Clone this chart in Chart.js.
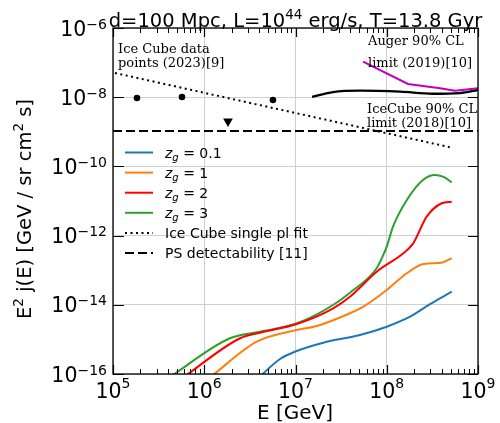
<!DOCTYPE html>
<html><head><meta charset="utf-8">
<script src="https://cdn.jsdelivr.net/npm/chart.js@4.4.0/dist/chart.umd.min.js"></script>
<style>html,body{margin:0;padding:0;background:#fff}#wrap{width:500px;height:423px}</style>
</head><body><div id="wrap"><canvas id="c" width="500" height="423"></canvas></div>
<script>
// ---- tick labels ----
const xTickValues = [1e5, 1e6, 1e7, 1e8, 1e9];
const xTickExponents = ['5', '6', '7', '8', '9'];
const yTickValues = [1e-6, 1e-8, 1e-10, 1e-12, 1e-14, 1e-16];
const yTickExponents = ['\u22126', '\u22128', '\u221210', '\u221212', '\u221214', '\u221216'];

// ---- series ----
const zg01E = [3.80e6, 6.76e6, 1.03e7, 2.02e7, 5.09e7, 1.00e8, 1.80e8, 2.98e8, 5.15e8];
const zg01J = [7.08e-17, 2.72e-16, 4.62e-16, 8.04e-16, 1.34e-15, 2.33e-15, 4.53e-15, 1.05e-14, 2.39e-14];

const zg1E = [1.12e6, 3.76e6, 1.03e7, 1.71e7, 3.95e7, 5.53e7, 1.00e8, 1.66e8, 2.52e8, 4.00e8, 5.15e8];
const zg1J = [7.41e-17, 8.59e-16, 1.87e-15, 2.44e-15, 5.69e-15, 8.81e-15, 2.68e-14, 8.15e-14, 1.51e-13, 1.65e-13, 2.21e-13];

const zg2E = [5.62e5, 2.47e6, 4.08e6, 1.03e7, 2.59e7, 3.95e7, 7.76e7, 1.52e8, 1.95e8, 2.74e8, 4.00e8, 5.15e8];
const zg2J = [7.24e-17, 1.08e-15, 1.56e-15, 2.79e-15, 7.94e-15, 1.71e-14, 9.06e-14, 3.08e-13, 5.98e-13, 3.52e-12, 8.59e-12, 9.55e-12];

const zg3E = [3.98e5, 1.91e6, 4.08e6, 1.04e7, 2.58e7, 3.95e7, 7.76e7, 8.87e7, 1.00e8, 1.17e8, 1.66e8, 2.49e8, 3.38e8, 4.13e8, 5.15e8];
const zg3J = [7.41e-17, 1.08e-15, 1.67e-15, 2.92e-15, 9.86e-15, 2.24e-14, 1.14e-13, 2.29e-13, 4.79e-13, 1.81e-12, 1.07e-11, 4.05e-11, 5.64e-11, 5.04e-11, 3.47e-11];

const plFitE = [1.05e5, 4.9e8];
const plFitJ = [5.0e-8, 3.6e-10];

const psE = [1e5, 1e9];
const psJ = [1.05e-9, 1.05e-9];

const icLimitE = [1.52e7, 2.58e7, 5.09e7, 1.40e8, 3.21e8, 6.35e8, 1e9];
const icLimitJ = [1.03e-8, 1.41e-8, 1.54e-8, 1.44e-8, 1.26e-8, 1.32e-8, 1.61e-8];

const augerE = [5.5e7, 1.71e8, 3.84e8, 5.6e8, 1e9];
const augerJ = [1.06e-7, 2.41e-8, 1.81e-8, 1.54e-8, 1.81e-8];

const icPointsE = [1.83e5, 5.7e5, 5.66e6];
const icPointsJ = [9.5e-9, 1.01e-8, 8.3e-9];

const icUpperE = [1.82e6];
const icUpperJ = [2.0e-9];

const legendLabels = ['0.1', '1', '2', '3', 'Ice Cube single pl fit', 'PS detectability [11]'];

// ---- build ----
const pts = (E, J) => E.map((e, i) => ({x: e, y: J[i]}));
const SANS = '"DejaVu Sans", sans-serif';
const SERIF = '"DejaVu Serif", serif';

function lineDs(E, J, color, extra) {
  return Object.assign({
    data: pts(E, J), borderColor: color, backgroundColor: color,
    borderWidth: 2, pointRadius: 0, fill: false,
    cubicInterpolationMode: 'monotone'
  }, extra || {});
}

const datasets = [
  lineDs(psE, psJ, '#000', {borderDash: [9, 4], cubicInterpolationMode: 'default', tension: 0}),
  lineDs(plFitE, plFitJ, '#000', {borderDash: [2, 3.5], cubicInterpolationMode: 'default', tension: 0}),
  lineDs(icLimitE, icLimitJ, '#000', {borderWidth: 2.3}),
  lineDs(augerE, augerJ, '#bf00bf', {cubicInterpolationMode: 'default', tension: 0}),
  lineDs(zg01E, zg01J, '#1f77b4'),
  lineDs(zg1E, zg1J, '#ff7f0e'),
  lineDs(zg2E, zg2J, '#ff0000'),
  lineDs(zg3E, zg3J, '#2ca02c'),
  {data: pts(icPointsE, icPointsJ), showLine: false, pointRadius: 3.3, pointStyle: 'circle',
   backgroundColor: '#000', borderColor: '#000', borderWidth: 0},
  {data: pts(icUpperE, icUpperJ), showLine: false, pointRadius: 5.6, pointStyle: 'triangle', rotation: 180,
   backgroundColor: '#000', borderColor: '#000', borderWidth: 0}
];

function supText(ctx, x, y, base, exp, bf, ef, raise) {
  ctx.font = bf; ctx.fillText(base, x, y);
  const w1 = ctx.measureText(base).width;
  ctx.font = ef; ctx.fillText(exp, x + w1, y - raise);
  return w1 + ctx.measureText(exp).width;
}
function measurePieces(ctx, pieces) {
  let w = 0;
  for (const p of pieces) { ctx.font = p.f; w += ctx.measureText(p.t).width; }
  return w;
}
function drawPieces(ctx, x, y, pieces) {
  let cx = x;
  for (const p of pieces) {
    ctx.font = p.f; ctx.fillText(p.t, cx, y - (p.r || 0));
    cx += ctx.measureText(p.t).width;
  }
}

const decor = {
  id: 'decor',
  afterDatasetsDraw(chart) {
    const ctx = chart.ctx, a = chart.chartArea;
    const xs = chart.scales.x, ys = chart.scales.y;
    ctx.save();
    ctx.fillStyle = '#000'; ctx.strokeStyle = '#000';
    ctx.textBaseline = 'alphabetic'; ctx.textAlign = 'left';

    // frame
    ctx.lineWidth = 1.3;
    ctx.strokeRect(a.left, a.top, a.right - a.left, a.bottom - a.top);

    // x ticks (inward, top & bottom)
    ctx.lineWidth = 1;
    for (let d = 5; d <= 8; d++) {
      for (let k = 2; k <= 9; k++) {
        const px = Math.round(xs.getPixelForValue(k * Math.pow(10, d))) + 0.5;
        ctx.beginPath();
        ctx.moveTo(px, a.bottom); ctx.lineTo(px, a.bottom - 5);
        ctx.moveTo(px, a.top); ctx.lineTo(px, a.top + 5);
        ctx.stroke();
      }
    }
    ctx.lineWidth = 1.2;
    xTickValues.forEach(v => {
      const px = Math.round(xs.getPixelForValue(v)) + 0.5;
      ctx.beginPath();
      ctx.moveTo(px, a.bottom); ctx.lineTo(px, a.bottom - 9);
      ctx.moveTo(px, a.top); ctx.lineTo(px, a.top + 9);
      ctx.stroke();
    });
    // y ticks
    yTickValues.forEach(v => {
      const py = Math.round(ys.getPixelForValue(v)) + 0.5;
      ctx.beginPath();
      ctx.moveTo(a.left, py); ctx.lineTo(a.left + 11, py);
      ctx.moveTo(a.right, py); ctx.lineTo(a.right - 10, py);
      ctx.stroke();
    });

    // x tick labels
    const bf = '20.5px ' + SANS, ef = '14px ' + SANS;
    xTickValues.forEach((v, i) => {
      const px = xs.getPixelForValue(v);
      const w = measurePieces(ctx, [{t: '10', f: bf}, {t: xTickExponents[i], f: ef}]);
      supText(ctx, px - w / 2, 398, '10', xTickExponents[i], bf, ef, 10);
    });
    // y tick labels
    yTickValues.forEach((v, i) => {
      const py = ys.getPixelForValue(v);
      const w = measurePieces(ctx, [{t: '10', f: bf}, {t: yTickExponents[i], f: ef}]);
      supText(ctx, 107 - w, py + 7.5, '10', yTickExponents[i], bf, ef, 7);
    });

    // title
    const tf = '19.5px ' + SANS, tsf = '13.5px ' + SANS;
    const titleP = [{t: 'd=100 Mpc, L=10', f: tf}, {t: '44', f: tsf, r: 8}, {t: ' erg/s, T=13.8 Gyr', f: tf}];
    const tw = measurePieces(ctx, titleP);
    drawPieces(ctx, 295.5 - tw / 2, 26.5, titleP);

    // x title
    ctx.font = '20px ' + SANS;
    const xt = 'E [GeV]';
    ctx.fillText(xt, 295 - ctx.measureText(xt).width / 2, 419);

    // y title
    const yP = [{t: 'E', f: tf}, {t: '2', f: tsf, r: 8}, {t: ' j(E) [GeV / sr cm', f: tf}, {t: '2', f: tsf, r: 8}, {t: ' s]', f: tf}];
    const yw = measurePieces(ctx, yP);
    ctx.save();
    ctx.translate(31, 209);
    ctx.rotate(-Math.PI / 2);
    drawPieces(ctx, -yw / 2, 0, yP);
    ctx.restore();

    // annotations
    ctx.font = '13px ' + SERIF;
    ctx.fillText('Ice Cube data', 118, 53);
    ctx.fillText('points (2023)[9]', 118, 66.5);
    ctx.fillText('Auger 90% CL', 368, 45);
    ctx.fillText('limit (2019)[10]', 368, 66.5);
    ctx.fillText('IceCube 90% CL', 367, 113);
    ctx.fillText('limit (2018)[10]', 367, 127);

    // legend
    const cols = ['#1f77b4', '#ff7f0e', '#ff0000', '#2ca02c', '#000', '#000'];
    const lf = '14px ' + SANS, lif = 'italic 14px ' + SANS, lsf = 'italic 10px ' + SANS;
    for (let i = 0; i < 6; i++) {
      const y = 152.5 + i * 20.1;
      ctx.strokeStyle = cols[i];
      ctx.lineWidth = 2;
      ctx.setLineDash(i === 4 ? [2, 3.5] : i === 5 ? [9, 4] : []);
      ctx.beginPath(); ctx.moveTo(125, y); ctx.lineTo(153, y); ctx.stroke();
      ctx.setLineDash([]);
      ctx.fillStyle = '#000';
      const by = y + 5;
      if (i < 4) {
        drawPieces(ctx, 165, by, [{t: 'z', f: lif}, {t: 'g', f: lsf, r: -3}, {t: ' = ' + legendLabels[i], f: lf}]);
      } else {
        ctx.font = lf; ctx.fillText(legendLabels[i], 165, by);
      }
    }
    ctx.restore();
  }
};

new Chart(document.getElementById('c'), {
  type: 'line',
  data: {datasets},
  options: {
    responsive: false, animation: false, devicePixelRatio: 1,
    layout: {padding: {left: 113, right: 22, top: 28, bottom: 49}},
    plugins: {legend: {display: false}, tooltip: {enabled: false}},
    scales: {
      x: {
        type: 'logarithmic', min: 1e5, max: 1e9,
        afterBuildTicks: s => { s.ticks = xTickValues.map(v => ({value: v})); },
        afterFit: s => { s.height = 0; },
        ticks: {display: false},
        grid: {color: '#cfcfcf', lineWidth: 1, drawTicks: false},
        border: {display: false}
      },
      y: {
        type: 'logarithmic', min: 1e-16, max: 1e-6,
        afterBuildTicks: s => { s.ticks = yTickValues.map(v => ({value: v})); },
        afterFit: s => { s.width = 0; },
        ticks: {display: false},
        grid: {color: '#cfcfcf', lineWidth: 1, drawTicks: false},
        border: {display: false}
      }
    }
  },
  plugins: [decor]
});
</script></body></html>
